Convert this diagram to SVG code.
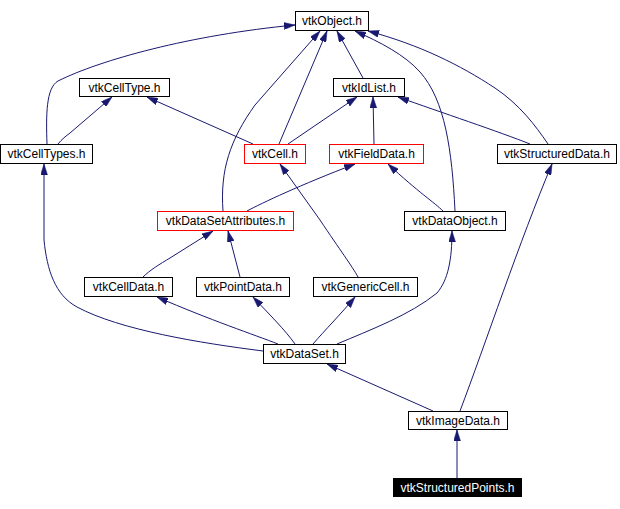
<svg xmlns="http://www.w3.org/2000/svg" width="620" height="509" viewBox="0 0 620 509">
<style>
.n rect{fill:#fff;stroke:#000;stroke-width:1}
.n.r rect{stroke:#f00}
.n.k rect{fill:#000;stroke:#000}
.n text{font-family:"Liberation Sans",Arial,sans-serif;font-size:12px;fill:#000;text-anchor:middle}
.n.k text{fill:#fff}
#edges path{fill:none;stroke:#191970;stroke-width:1;marker-end:url(#a)}
</style>
<defs>
<marker id="a" viewBox="0 0 11 7" refX="11" refY="3.5" markerWidth="11" markerHeight="7" markerUnits="userSpaceOnUse" orient="auto">
<path d="M0,0 L11,3.5 L0,7 z" fill="#191970" stroke="#191970" stroke-width="0.5"/>
</marker>
</defs>
<rect width="620" height="509" fill="#fff"/>
<g id="edges">
<path d="M47,144 C46,115 46,88 58,81 C100,60 190,35 295,25"/>
<path d="M58,144 C62,139 66,136 70,133 L112,97"/>
<path d="M253,144 L147,97"/>
<path d="M279,144 L327,31"/>
<path d="M223,211 C220,170 230,140 255,105 L320,31"/>
<path d="M363,78 L337,31"/>
<path d="M455,211 C452,150 445,100 420,72 C405,55 380,42 355,31"/>
<path d="M548,144 C535,125 520,105 495,88 C460,65 420,45 368,31"/>
<path d="M288,144 L357,97"/>
<path d="M374,144 L373,97"/>
<path d="M530,144 C500,132 440,112 398,97"/>
<path d="M247,211 C262,203 300,185 355,164"/>
<path d="M443,211 C435,203 418,192 388,164"/>
<path d="M358,277 C352,266 340,250 320,220 L280,164"/>
<path d="M143,277 C150,270 160,264 170,258 L213,231"/>
<path d="M240,277 L228,231"/>
<path d="M263,351 C200,343 120,330 77,307 C55,295 47,270 44,240 L44,164"/>
<path d="M278,344 C255,335 210,320 157,297"/>
<path d="M295,344 C285,330 270,315 253,297"/>
<path d="M313,344 C325,330 340,315 355,297"/>
<path d="M337,344 C370,330 410,315 437,293 C448,280 452,260 452,231"/>
<path d="M433,411 L327,364"/>
<path d="M460,411 C485,345 520,240 552,164"/>
<path d="M457,478 L457,430"/>
</g>
<g id="vtkObject" class="n"><rect x="295.5" y="11.5" width="73" height="19"/><text x="332" y="25">vtkObject.h</text></g>
<g id="vtkCellType" class="n"><rect x="79.5" y="78.5" width="90" height="18"/><text x="124.5" y="92">vtkCellType.h</text></g>
<g id="vtkIdList" class="n"><rect x="333.5" y="78.5" width="71" height="18"/><text x="369" y="92">vtkIdList.h</text></g>
<g id="vtkCellTypes" class="n"><rect x="0.5" y="144.5" width="92" height="19"/><text x="46.5" y="158">vtkCellTypes.h</text></g>
<g id="vtkCell" class="n r"><rect x="244.5" y="144.5" width="61" height="19"/><text x="275" y="158">vtkCell.h</text></g>
<g id="vtkFieldData" class="n r"><rect x="329.5" y="144.5" width="94" height="19"/><text x="376.5" y="158">vtkFieldData.h</text></g>
<g id="vtkStructuredData" class="n"><rect x="497.5" y="144.5" width="119" height="19"/><text x="557" y="158">vtkStructuredData.h</text></g>
<g id="vtkDataSetAttributes" class="n r"><rect x="157.5" y="211.5" width="136" height="19"/><text x="225.5" y="225">vtkDataSetAttributes.h</text></g>
<g id="vtkDataObject" class="n"><rect x="404.5" y="211.5" width="101" height="19"/><text x="455" y="225">vtkDataObject.h</text></g>
<g id="vtkCellData" class="n"><rect x="84.5" y="277.5" width="88" height="19"/><text x="128.5" y="291">vtkCellData.h</text></g>
<g id="vtkPointData" class="n"><rect x="196.5" y="277.5" width="93" height="19"/><text x="243" y="291">vtkPointData.h</text></g>
<g id="vtkGenericCell" class="n"><rect x="313.5" y="277.5" width="104" height="19"/><text x="365.5" y="291">vtkGenericCell.h</text></g>
<g id="vtkDataSet" class="n"><rect x="263.5" y="344.5" width="82" height="19"/><text x="304.5" y="358">vtkDataSet.h</text></g>
<g id="vtkImageData" class="n"><rect x="408.5" y="411.5" width="99" height="18"/><text x="458" y="425">vtkImageData.h</text></g>
<g id="vtkStructuredPoints" class="n k"><rect x="393.5" y="478.5" width="128" height="18"/><text x="457.5" y="492">vtkStructuredPoints.h</text></g>
</svg>
